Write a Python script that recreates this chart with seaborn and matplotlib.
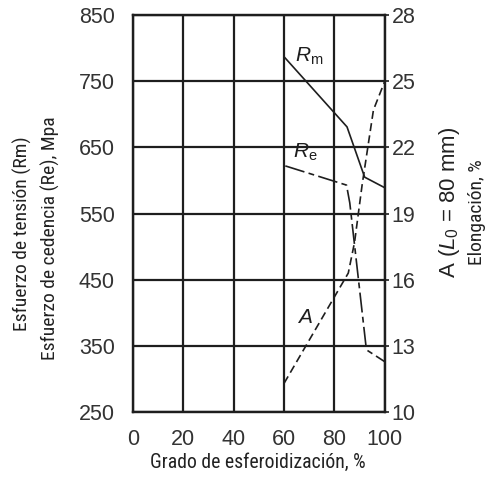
import matplotlib
matplotlib.use('Agg')
import matplotlib.pyplot as plt
from matplotlib import font_manager
import seaborn as sns
import pandas as pd

# Datos
rm_x = [60, 85, 92, 100]
rm_y = [787, 681, 605, 589]

re_x = [60.5, 84.8, 86.1, 92.7, 100]
re_y = [622, 593, 566, 344, 326]

a_x = [60, 85.5, 88, 91, 95.5, 100]
a_y = [11.3, 16.3, 17.7, 20.3, 23.7, 25.0]

x_ticks = [0, 20, 40, 60, 80, 100]
left_ticks = [250, 350, 450, 550, 650, 750, 850]
right_ticks = [10, 13, 16, 19, 22, 25, 28]

sns.set_theme(style='white')
plt.rcParams['font.family'] = ['Liberation Sans', 'DejaVu Sans']
plt.rcParams['mathtext.fontset'] = 'custom'
plt.rcParams['mathtext.rm'] = 'Liberation Sans'
plt.rcParams['mathtext.it'] = 'Liberation Sans:italic'

# fuente estrecha si existe
names = set(f.name for f in font_manager.fontManager.ttflist)
narrow = ['Liberation Sans']
for cand in ['Roboto Condensed', 'Liberation Sans Narrow', 'Open Sans Condensed', 'DejaVu Sans Condensed']:
    if cand in names:
        narrow = [cand, 'Liberation Sans']
        break
ink = '#1e1e1e'
txt = '#222222'

fig = plt.figure(figsize=(4.88, 4.84), dpi=100)
ax = fig.add_axes([0.2725, 0.1488, 0.516, 0.820])

df_rm = pd.DataFrame({'x': rm_x, 'y': rm_y})
df_re = pd.DataFrame({'x': re_x, 'y': re_y})
df_a = pd.DataFrame({'x': a_x, 'y': a_y})

sns.lineplot(data=df_rm, x='x', y='y', ax=ax, color=ink, lw=1.2, sort=False, estimator=None)
sns.lineplot(data=df_re, x='x', y='y', ax=ax, color=ink, lw=1.2, sort=False, estimator=None)
ax.lines[-1].set_dashes([12, 2.6, 3.5, 2.6])

ax.set_xlim(0, 100)
ax.set_ylim(250, 850)
ax.set_xticks(x_ticks)
ax.set_yticks(left_ticks)
ax.grid(True, color=ink, lw=1.6)
ax.set_axisbelow(True)
for s in ax.spines.values():
    s.set_color(ink)
    s.set_linewidth(1.6)
ax.tick_params(axis='both', length=0, labelsize=15.5, colors='#333333')
ax.tick_params(axis='y', pad=13)
ax.tick_params(axis='x', pad=12)
ax.set_xlabel('')
ax.set_ylabel('')

ax2 = ax.twinx()
sns.lineplot(data=df_a, x='x', y='y', ax=ax2, color=ink, lw=1.2, sort=False, estimator=None)
ax2.lines[-1].set_dashes([4.8, 2.6])
ax2.set_ylim(10, 28)
ax2.set_yticks(right_ticks)
ax2.grid(False)
for s in ax2.spines.values():
    s.set_color(ink)
    s.set_linewidth(1.6)
ax2.tick_params(axis='y', length=3, width=1.2, color=ink, labelsize=15.5, colors='#333333', pad=2)
ax2.set_ylabel('')

ax.text(64.5, 780, r'$R_\mathrm{m}$', fontsize=15, color=ink)
ax.text(63.5, 635, r'$R_\mathrm{e}$', fontsize=15, color=ink)
ax.text(65, 384, r'$A$', fontsize=15, color=ink)

# etiquetas de ejes
fig.text(258 / 488, 1 - 462 / 484, 'Grado de esferoidización, %', fontsize=14.2, family=narrow,
         color=txt, ha='center', va='center')
fig.text(22 / 488, 1 - 234 / 484, 'Esfuerzo de tensión (Rm)', rotation=90, fontsize=14,
         family=narrow, color=txt, ha='center', va='center')
fig.text(50 / 488, 1 - 238 / 484, 'Esfuerzo de cedencia (Re), Mpa', rotation=90, fontsize=14,
         family=narrow, color=txt, ha='center', va='center')
fig.text(450 / 488, 1 - 202 / 484, r'A ($L_0$ = 80 mm)', rotation=90, fontsize=16, color=txt,
         ha='center', va='center')
fig.text(477 / 488, 1 - 212 / 484, 'Elongación, %', rotation=90, fontsize=14, family=narrow,
         color=txt, ha='center', va='center')

fig.savefig('out.png', dpi=100)
